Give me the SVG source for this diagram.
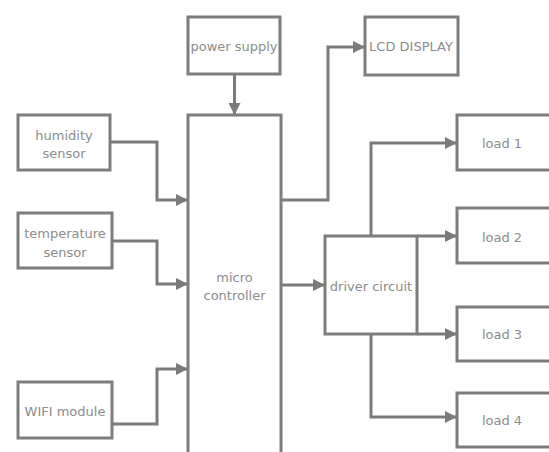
<svg xmlns="http://www.w3.org/2000/svg" width="549" height="452" viewBox="0 0 549 452">
<style>
.box{fill:#fff;stroke:#7d7d7d;stroke-width:3}
.lbl{font-family:"DejaVu Sans",sans-serif;font-size:13px;fill:#8c8c8c;text-anchor:middle;dominant-baseline:central}
.con{fill:none;stroke:#7a7a7a;stroke-width:3;marker-end:url(#ah)}
</style>
<defs>
<marker id="ah" markerUnits="userSpaceOnUse" markerWidth="12" markerHeight="12" refX="11" refY="6" orient="auto">
<path d="M0,0 L12,6 L0,12 z" fill="#7a7a7a"/>
</marker>
</defs>
<rect width="549" height="452" fill="#fff"/>
<g id="connectors">
<path class="con" d="M234.5,74 V114"/>
<path class="con" d="M110,142 H157 V200 H187"/>
<path class="con" d="M112,241 H157 V284 H187"/>
<path class="con" d="M112,424 H157 V369 H187"/>
<path class="con" d="M281,200 H328 V47 H364"/>
<path class="con" d="M281,285 H324"/>
<path class="con" d="M371,236 V143 H456"/>
<path class="con" d="M417,236 H456"/>
<path class="con" d="M417,334 H456"/>
<path class="con" d="M371,334 V417 H456"/>
</g>
<g id="power-supply"><rect class="box" x="188" y="17" width="92" height="57"/><text class="lbl" x="234" y="46">power supply</text></g>
<g id="lcd-display"><rect class="box" x="365" y="17" width="93" height="58"/><text class="lbl" x="411" y="46">LCD DISPLAY</text></g>
<g id="micro-controller"><rect class="box" x="188" y="115" width="93" height="350"/><text class="lbl" x="234.5" y="277">micro</text><text class="lbl" x="234.5" y="295">controller</text></g>
<g id="humidity-sensor"><rect class="box" x="18" y="115" width="92" height="55"/><text class="lbl" x="64" y="135">humidity</text><text class="lbl" x="64" y="153">sensor</text></g>
<g id="temperature-sensor"><rect class="box" x="18" y="213" width="94" height="55"/><text class="lbl" x="65" y="233">temperature</text><text class="lbl" x="65" y="252">sensor</text></g>
<g id="wifi-module"><rect class="box" x="18" y="382" width="94" height="56"/><text class="lbl" x="65" y="411">WIFI module</text></g>
<g id="driver-circuit"><rect class="box" x="325" y="236" width="92" height="98"/><text class="lbl" x="371" y="286">driver circuit</text></g>
<g id="load-1"><rect class="box" x="457" y="115" width="100" height="55"/><text class="lbl" x="502" y="143">load 1</text></g>
<g id="load-2"><rect class="box" x="457" y="208" width="100" height="55"/><text class="lbl" x="502" y="237">load 2</text></g>
<g id="load-3"><rect class="box" x="457" y="307" width="100" height="54"/><text class="lbl" x="502" y="334">load 3</text></g>
<g id="load-4"><rect class="box" x="457" y="393" width="100" height="54"/><text class="lbl" x="502" y="420">load 4</text></g>
</svg>
